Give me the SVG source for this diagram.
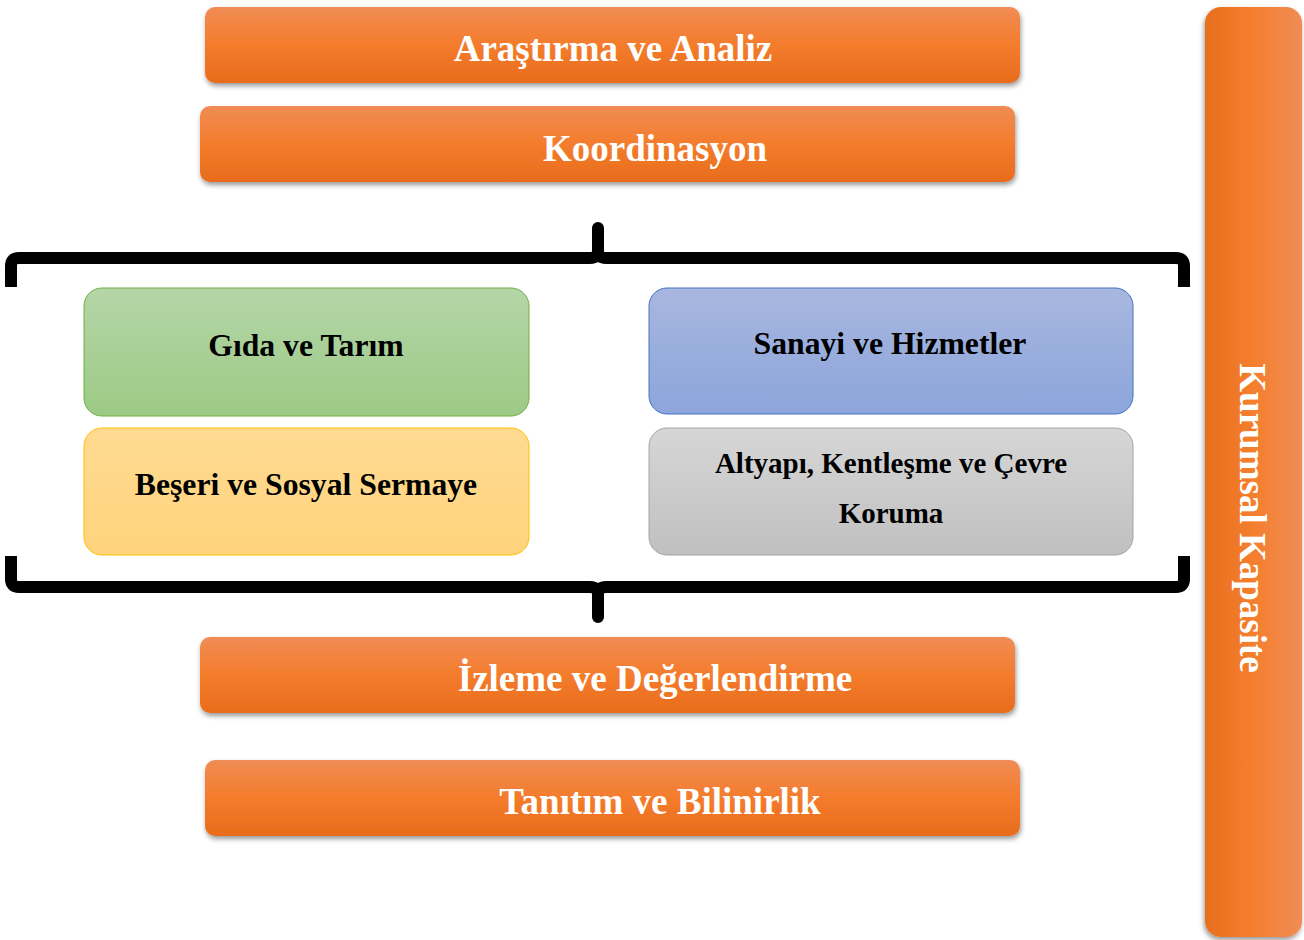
<svg xmlns="http://www.w3.org/2000/svg" width="1304" height="940" viewBox="0 0 1304 940">
<defs>
<linearGradient id="og" x1="0" y1="0" x2="0" y2="1">
<stop offset="0" stop-color="#F08C55"/>
<stop offset="0.5" stop-color="#F47C2C"/>
<stop offset="1" stop-color="#E86C1C"/>
</linearGradient>
<linearGradient id="ogh" x1="0" y1="0" x2="1" y2="0">
<stop offset="0" stop-color="#E86E1E"/>
<stop offset="0.5" stop-color="#F47F2E"/>
<stop offset="1" stop-color="#F08C55"/>
</linearGradient>
<linearGradient id="gg" x1="0" y1="0" x2="0" y2="1">
<stop offset="0" stop-color="#B5D6A8"/>
<stop offset="1" stop-color="#9CCA85"/>
</linearGradient>
<linearGradient id="yg" x1="0" y1="0" x2="0" y2="1">
<stop offset="0" stop-color="#FFDA92"/>
<stop offset="1" stop-color="#FFD47C"/>
</linearGradient>
<linearGradient id="bg" x1="0" y1="0" x2="0" y2="1">
<stop offset="0" stop-color="#A8B7DF"/>
<stop offset="1" stop-color="#8CA5DB"/>
</linearGradient>
<linearGradient id="sg" x1="0" y1="0" x2="0" y2="1">
<stop offset="0" stop-color="#D6D6D6"/>
<stop offset="1" stop-color="#C0C0C0"/>
</linearGradient>
<filter id="sh" x="-5%" y="-20%" width="110%" height="150%">
<feDropShadow dx="1" dy="3" stdDeviation="2.5" flood-color="#000" flood-opacity="0.4"/>
</filter>
<filter id="shv" x="-20%" y="-2%" width="150%" height="105%">
<feDropShadow dx="-1" dy="3" stdDeviation="2.5" flood-color="#000" flood-opacity="0.4"/>
</filter>
</defs>
<style>
.ob{fill:url(#og);filter:url(#sh)}
.ot{font-family:"Liberation Serif",serif;font-weight:bold;font-size:37px;fill:#fff;text-anchor:middle}
.it{font-family:"Liberation Serif",serif;font-weight:bold;font-size:31.7px;fill:#000;text-anchor:middle}
.is{font-size:29px}
.br{fill:none;stroke:#000;stroke-width:12;stroke-linejoin:round}
</style>
<rect width="1304" height="940" fill="#fff"/>
<g id="kurumsal">
<rect x="1205" y="7" width="97" height="930" rx="16" fill="url(#ogh)" filter="url(#shv)"/>
<text class="ot" transform="translate(1252,518) rotate(90)" dy="12">Kurumsal Kapasite</text>
</g>
<g id="arastirma">
<rect class="ob" x="205" y="7" width="815" height="76" rx="10"/>
<text class="ot" x="613" y="61">Araştırma ve Analiz</text>
</g>
<g id="koordinasyon">
<rect class="ob" x="200" y="106" width="815" height="76" rx="10"/>
<text class="ot" x="655" y="161">Koordinasyon</text>
</g>
<g id="connectors">
<path class="br" d="M11,287 V266 Q11,258 19,258 H590 Q598,258 598,250 V228 V250 Q598,258 606,258 H1176 Q1184,258 1184,266 V287"/>
<path class="br" d="M11,556 V579 Q11,587 19,587 H590 Q598,587 598,595 V617 V595 Q598,587 606,587 H1176 Q1184,587 1184,579 V556"/>
</g>
<g id="gida">
<rect x="84" y="288" width="445" height="128" rx="18" fill="url(#gg)" stroke="#70AD47" stroke-width="1"/>
<text class="it" x="306" y="356">Gıda ve Tarım</text>
</g>
<g id="sanayi">
<rect x="649" y="288" width="484" height="126" rx="18" fill="url(#bg)" stroke="#4472C4" stroke-width="1"/>
<text class="it" x="890" y="354">Sanayi ve Hizmetler</text>
</g>
<g id="beseri">
<rect x="84" y="428" width="445" height="127" rx="18" fill="url(#yg)" stroke="#FFC000" stroke-width="1"/>
<text class="it" x="306" y="495">Beşeri ve Sosyal Sermaye</text>
</g>
<g id="altyapi">
<rect x="649" y="428" width="484" height="127" rx="18" fill="url(#sg)" stroke="#A5A5A5" stroke-width="1"/>
<text class="it is" x="891" y="473">Altyapı, Kentleşme ve Çevre</text>
<text class="it is" x="891" y="523">Koruma</text>
</g>
<g id="izleme">
<rect class="ob" x="200" y="637" width="815" height="76" rx="10"/>
<text class="ot" x="655" y="691">İzleme ve Değerlendirme</text>
</g>
<g id="tanitim">
<rect class="ob" x="205" y="760" width="815" height="76" rx="10"/>
<text class="ot" x="660" y="814">Tanıtım ve Bilinirlik</text>
</g>
</svg>
